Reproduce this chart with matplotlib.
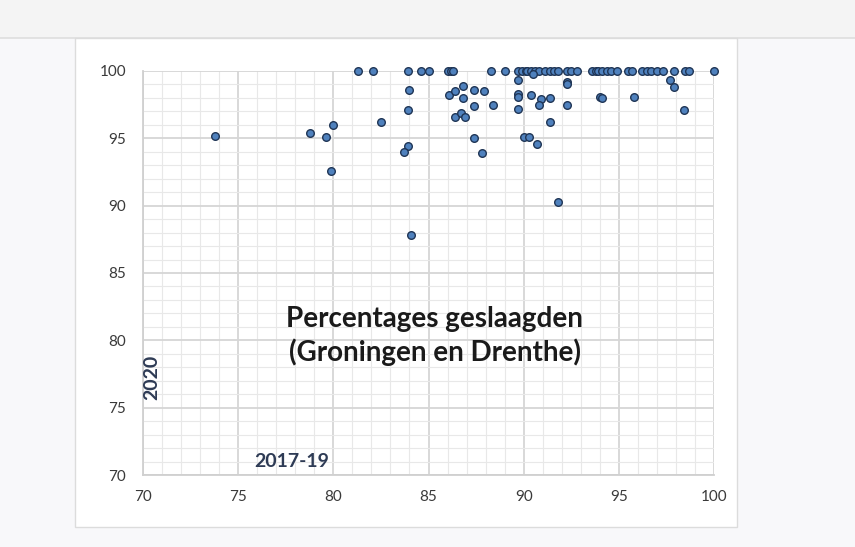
#!/usr/bin/env python3
"""Scatter of pass percentages 2017-19 vs 2020 (Groningen en Drenthe)."""

import matplotlib

matplotlib.use("Agg")
import matplotlib.pyplot as plt
from matplotlib.patches import Rectangle
from matplotlib.lines import Line2D


# schools at 100% in 2020
TOP_X = [81.3, 82.1, 83.9, 84.6, 85.0, 86.0, 86.2, 86.3, 88.3, 89.0,
         89.7, 89.9, 90.1, 90.2, 90.4, 90.6, 90.8, 91.1, 91.4, 91.6,
         91.8, 92.3, 92.5, 92.8, 93.6, 93.8, 93.9, 94.1, 94.4, 94.6,
         94.9, 95.5, 95.7, 96.2, 96.5, 96.7, 97.0, 97.3, 97.9, 98.5,
         98.7, 100.0]
TOP_Y = [100.0] * len(TOP_X)

# remaining schools
REST_X = [73.8, 78.8, 79.6, 80.0, 79.9, 82.5, 84.0, 83.9, 83.9, 83.7,
          84.1, 86.1, 86.4, 86.8, 86.8, 86.4, 86.7, 86.9, 87.4, 87.9,
          87.4, 88.4, 87.4, 87.8, 89.7, 89.7, 89.7, 89.7, 90.5, 90.4,
          90.9, 90.8, 91.4, 92.3, 92.3, 92.3, 91.4, 90.0, 90.3, 90.7,
          91.8, 94.0, 94.1, 95.8, 97.7, 97.9, 98.4]
REST_Y = [95.2, 95.4, 95.1, 96.0, 92.6, 96.2, 98.6, 97.1, 94.4, 94.0,
          87.8, 98.2, 98.5, 98.9, 98.0, 96.6, 96.9, 96.6, 98.6, 98.5,
          97.4, 97.5, 95.0, 93.9, 99.3, 98.3, 98.1, 97.2, 99.8, 98.2,
          97.9, 97.5, 98.0, 99.2, 99.0, 97.5, 96.2, 95.1, 95.1, 94.6,
          90.3, 98.1, 98.0, 98.1, 99.3, 98.8, 97.1]

X_TICKS = [70, 75, 80, 85, 90, 95, 100]
Y_TICKS = [70, 75, 80, 85, 90, 95, 100]

W, H = 855, 547

plt.rcParams["font.family"] = ["Lato", "DejaVu Sans"]

fig = plt.figure(figsize=(W / 100, H / 100), dpi=100)
fig.patch.set_facecolor("#f8f8fa")

# page chrome: grey top band and white chart box (drawn below the axes)
fig.patches.append(Rectangle((0, 1 - 38 / H), 1, 38 / H, transform=fig.transFigure,
                             facecolor="#f4f4f4", edgecolor="none", zorder=-2))
fig.lines.append(Line2D([0, 1], [1 - 38 / H] * 2, transform=fig.transFigure,
                        color="#dedede", linewidth=1.2, zorder=-1))
fig.patches.append(Rectangle((75 / W, 1 - 527 / H), (737 - 75) / W, (527 - 38) / H,
                             transform=fig.transFigure, facecolor="white",
                             edgecolor="#dcdcdc", linewidth=1.0, zorder=-1))

ax = fig.add_axes([143 / W, (H - 475) / H, (714 - 143) / W, (475 - 71) / H])
ax.set_facecolor("none")

x = TOP_X + REST_X
y = TOP_Y + REST_Y
ax.scatter(x, y, s=30, facecolor="#4f81bd", edgecolor="#1f3555",
           linewidth=1.0, zorder=3, clip_on=False)

ax.set_xlim(70, 100)
ax.set_ylim(70, 100)
ax.set_xticks(X_TICKS)
ax.set_yticks(Y_TICKS)
ax.set_xticks(range(70, 101), minor=True)
ax.set_yticks(range(70, 101), minor=True)
ax.grid(which="major", color="#d6d6d6", linewidth=1.3)
ax.grid(which="minor", color="#e8e8e8", linewidth=0.8)
ax.set_axisbelow(True)
for side in ["top", "right"]:
    ax.spines[side].set_visible(False)
for side in ["left", "bottom"]:
    ax.spines[side].set_color("#d0d0d0")
    ax.spines[side].set_linewidth(1.3)
ax.tick_params(which="both", length=0, labelsize=11, labelcolor="#3a3a3a")
ax.tick_params(axis="x", pad=11)
ax.tick_params(axis="y", pad=12)

ax.text(0.511, 0.344, "Percentages geslaagden\n(Groningen en Drenthe)",
        transform=ax.transAxes, ha="center", va="center", fontsize=20,
        fontweight="bold", color="#1a1a1a", linespacing=1.3)
ax.text(77.83, 70.97, "2017-19", ha="center", va="center", fontsize=14,
        fontweight="bold", color="#2e3b55")
ax.text(70.47, 77.25, "2020", ha="center", va="center", rotation=90,
        fontsize=14, fontweight="bold", color="#2e3b55")

fig.savefig("out.png", dpi=100)
